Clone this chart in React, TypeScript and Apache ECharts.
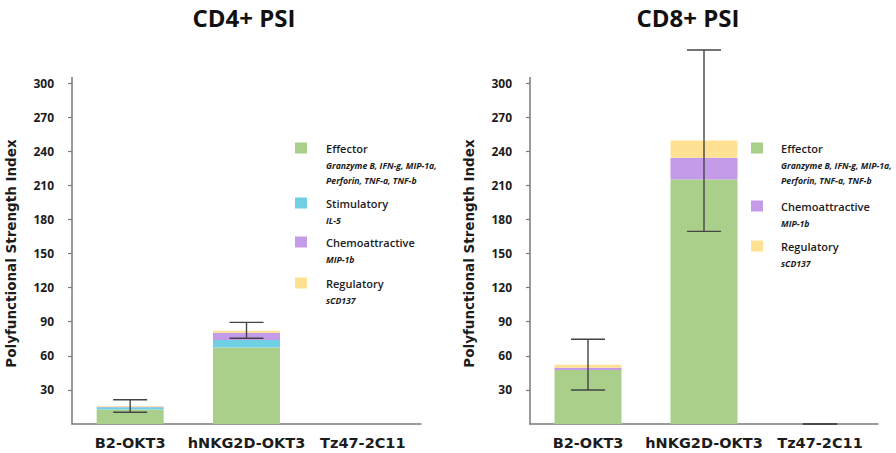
import React, { useEffect, useRef } from "react";
import * as echarts from "echarts";

const categories = ["B2-OKT3", "hNKG2D-OKT3", "Tz47-2C11"];
const yTicks = { min: 0, max: 300, interval: 30 };

// CD4+ PSI
const cd4Effector = [12.8, 67.2, 0];
const cd4Stimulatory = [2.0, 6.7, 0];
const cd4Chemoattractive = [0.4, 6.4, 0];
const cd4Regulatory = [0.6, 1.7, 0];
const cd4ErrLow = [10.3, 75.4, null];
const cd4ErrHigh = [21.4, 89.4, null];

// CD8+ PSI
const cd8Effector = [47.5, 215.2, 0];
const cd8Chemoattractive = [2.0, 19.0, 0];
const cd8Regulatory = [2.7, 15.3, 0];
const cd8ErrLow = [29.9, 169.5, 0];
const cd8ErrHigh = [74.5, 329.0, 0];

const titles = ["CD4+ PSI", "CD8+ PSI"];
const yName = "Polyfunctional Strength Index";

const groupNames = ["Effector", "Stimulatory", "Chemoattractive", "Regulatory"];
const groupDetails = [
  ["Granzyme B, IFN-g, MIP-1a,", "Perforin, TNF-a, TNF-b"],
  ["IL-5"],
  ["MIP-1b"],
  ["sCD137"],
];

const COLORS: Record<string, string> = {
  Effector: "#a9cf8b",
  Stimulatory: "#70cfe2",
  Chemoattractive: "#c49be8",
  Regulatory: "#ffe193",
};

const FONT = "'Open Sans', 'DejaVu Sans', sans-serif";
const WIDE = "'DejaVu Sans', 'Open Sans', sans-serif";
const TEXT = "#1c1c1c";
const AXIS = "#7a7a7a";

const GRIDS = [
  { left: 72, top: 83, width: 349, height: 341 },
  { left: 530, top: 83, width: 348, height: 341 },
];

function errData(lo: (number | null)[], hi: (number | null)[]) {
  return lo
    .map((l, i) => (l === null || hi[i] === null ? null : [i, l, hi[i]]))
    .filter((d) => d !== null);
}

const errRender = (params: any, api: any) => {
  const x = api.value(0);
  const lo = api.coord([x, api.value(1)]);
  const hi = api.coord([x, api.value(2)]);
  const hw = 17;
  const style = { stroke: "#444", lineWidth: 1.4 };
  return {
    type: "group",
    children: [
      { type: "line", shape: { x1: hi[0], y1: hi[1], x2: lo[0], y2: lo[1] }, style },
      { type: "line", shape: { x1: hi[0] - hw, y1: hi[1], x2: hi[0] + hw, y2: hi[1] }, style },
      { type: "line", shape: { x1: lo[0] - hw, y1: lo[1], x2: lo[0] + hw, y2: lo[1] }, style },
    ],
  };
};

function legendGraphics(x0: number, textX: number, names: string[], rowYs: number[]) {
  const els: any[] = [];
  names.forEach((name, k) => {
    const gi = groupNames.indexOf(name);
    const y = rowYs[k];
    els.push({
      type: "rect",
      shape: { x: x0, y: y - 5.5, width: 12, height: 11 },
      style: { fill: COLORS[name] },
    });
    els.push({
      type: "text",
      x: textX,
      y,
      style: {
        text: name,
        font: `600 11px ${FONT}`,
        fill: TEXT,
        verticalAlign: "middle",
      },
    });
    groupDetails[gi].forEach((line, j) => {
      els.push({
        type: "text",
        x: textX,
        y: y + 17.5 + j * 15,
        style: {
          text: line,
          font: `italic 700 8.7px ${FONT}`,
          fill: TEXT,
          verticalAlign: "middle",
        },
      });
    });
  });
  return els;
}

export default function App() {
  const ref = useRef<HTMLDivElement>(null);

  useEffect(() => {
    if (!ref.current) return;
    document.body.style.margin = "0";
    const chart = echarts.init(ref.current, null, { renderer: "svg" });

    const xAxisBase = (gridIndex: number) => ({
      type: "category",
      gridIndex,
      data: categories,
      axisLine: { lineStyle: { color: AXIS, width: 1.5 } },
      axisTick: { show: false },
      axisLabel: {
        color: TEXT,
        fontFamily: WIDE,
        fontWeight: 700,
        fontSize: 14.5,
        margin: 11,
        interval: 0,
      },
    });
    const yAxisBase = (gridIndex: number) => ({
      type: "value",
      gridIndex,
      min: yTicks.min,
      max: yTicks.max,
      interval: yTicks.interval,
      name: yName,
      nameLocation: "middle",
      nameRotate: 90,
      nameGap: 54,
      nameTextStyle: { color: TEXT, fontFamily: WIDE, fontWeight: 700, fontSize: 13.5 },
      splitLine: { show: false },
      axisLine: { show: true, lineStyle: { color: AXIS, width: 1.5 } },
      axisTick: { show: true, length: 4, lineStyle: { color: AXIS, width: 1.2 } },
      axisLabel: {
        color: TEXT,
        fontFamily: FONT,
        fontWeight: 700,
        fontSize: 12,
        margin: 18,
        showMinLabel: false,
      },
    });

    const bar = (name: string, data: number[], idx: number, stack: string) => ({
      type: "bar",
      name,
      stack,
      xAxisIndex: idx,
      yAxisIndex: idx,
      data,
      barWidth: 67,
      itemStyle: { color: COLORS[name] },
      emphasis: { disabled: true },
    });

    const option: any = {
      animation: false,
      grid: GRIDS.map((g) => ({ ...g, containLabel: false })),
      xAxis: [xAxisBase(0), xAxisBase(1)],
      yAxis: [yAxisBase(0), yAxisBase(1)],
      series: [
        bar("Effector", cd4Effector, 0, "cd4"),
        bar("Stimulatory", cd4Stimulatory, 0, "cd4"),
        bar("Chemoattractive", cd4Chemoattractive, 0, "cd4"),
        bar("Regulatory", cd4Regulatory, 0, "cd4"),
        {
          type: "custom",
          xAxisIndex: 0,
          yAxisIndex: 0,
          clip: false,
          renderItem: errRender,
          data: errData(cd4ErrLow, cd4ErrHigh),
          z: 10,
        },
        bar("Effector", cd8Effector, 1, "cd8"),
        bar("Chemoattractive", cd8Chemoattractive, 1, "cd8"),
        bar("Regulatory", cd8Regulatory, 1, "cd8"),
        {
          type: "custom",
          xAxisIndex: 1,
          yAxisIndex: 1,
          clip: false,
          renderItem: errRender,
          data: errData(cd8ErrLow, cd8ErrHigh),
          z: 10,
        },
      ],
      graphic: [
        {
          type: "text",
          x: 244,
          y: 17,
          style: {
            text: titles[0],
            font: `700 24px ${FONT}`,
            fill: "#111",
            align: "center",
            verticalAlign: "middle",
          },
        },
        {
          type: "text",
          x: 688,
          y: 17,
          style: {
            text: titles[1],
            font: `700 24px ${FONT}`,
            fill: "#111",
            align: "center",
            verticalAlign: "middle",
          },
        },
        // small overshoot of the y-axis lines above the top tick
        ...GRIDS.map((g) => ({
          type: "line",
          shape: { x1: g.left, y1: g.top - 6, x2: g.left, y2: g.top },
          style: { stroke: AXIS, lineWidth: 1.5 },
        })),
        ...legendGraphics(295, 326, ["Effector", "Stimulatory", "Chemoattractive", "Regulatory"], [148, 203, 242, 283]),
        ...legendGraphics(751, 781, ["Effector", "Chemoattractive", "Regulatory"], [148, 206, 246]),
      ],
    };

    chart.setOption(option);
    return () => chart.dispose();
  }, []);

  return <div ref={ref} style={{ width: 896, height: 453, background: "#fff" }} />;
}
